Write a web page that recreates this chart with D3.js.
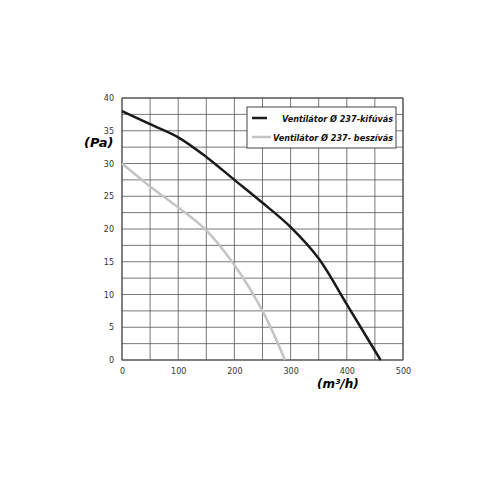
<!DOCTYPE html>
<html><head><meta charset="utf-8">
<script src="https://cdn.jsdelivr.net/npm/d3@7"></script>
<style>body{margin:0;background:#fff}text{font-family:"DejaVu Sans",sans-serif}</style>
</head><body><svg id="c" width="500" height="500"></svg>
<script>
const blowX = [0, 50, 100, 150, 200, 250, 300, 350, 400, 460];
const blowY = [38, 36, 34, 31, 27.5, 24, 20.3, 15.5, 8.5, 0];
const suckX = [0, 50, 100, 150, 200, 250, 290];
const suckY = [30, 26.5, 23.3, 19.8, 14.5, 7.5, 0];
const xTicks = [0, 100, 200, 300, 400, 500];
const yTicks = [0, 5, 10, 15, 20, 25, 30, 35, 40];
const names = ["Ventilátor Ø 237-kifúvás", "Ventilátor Ø 237- beszívás"];

const svg = d3.select("#c");
const x = d3.scaleLinear().domain([0, 500]).range([122, 403]);
const y = d3.scaleLinear().domain([0, 40]).range([360, 98]);

// grid
svg.append("g").selectAll("line").data(d3.range(0, 501, 50)).join("line")
  .attr("x1", d => x(d)).attr("x2", d => x(d)).attr("y1", y(0)).attr("y2", y(40))
  .attr("stroke", "#555").attr("stroke-width", 0.8);
svg.append("g").selectAll("line").data(d3.range(0, 40.1, 2.5)).join("line")
  .attr("x1", x(0)).attr("x2", x(500)).attr("y1", d => y(d)).attr("y2", d => y(d))
  .attr("stroke", "#555").attr("stroke-width", 0.8);
svg.append("rect").attr("x", x(0)).attr("y", y(40)).attr("width", x(500) - x(0)).attr("height", y(0) - y(40))
  .attr("fill", "none").attr("stroke", "#444").attr("stroke-width", 1);

const xa = svg.append("g").attr("transform", `translate(0,${y(0)})`)
  .call(d3.axisBottom(x).tickValues(xTicks).tickSize(0).tickPadding(8));
const ya = svg.append("g").attr("transform", `translate(${x(0)},0)`)
  .call(d3.axisLeft(y).tickValues(yTicks).tickSize(0).tickPadding(8));
[xa, ya].forEach(a => { a.select(".domain").remove(); a.selectAll("text").attr("font-size", 8).attr("fill", "#333").style("font-family", "DejaVu Sans"); });

const line = d3.line().x(d => x(d[0])).y(d => y(d[1])).curve(d3.curveCatmullRom);
svg.append("path").attr("d", line(d3.zip(suckX, suckY))).attr("fill", "none").attr("stroke", "#c4c4c4").attr("stroke-width", 2.5);
svg.append("path").attr("d", line(d3.zip(blowX, blowY))).attr("fill", "none").attr("stroke", "#1a1a1a").attr("stroke-width", 2.5);

// legend
svg.append("rect").attr("x", 247).attr("y", 107).attr("width", 149).attr("height", 41).attr("fill", "#fff").attr("stroke", "#444");
const cols = ["#1a1a1a", "#c4c4c4"];
names.forEach((n, i) => {
  const yy = 118 + i * 19;
  svg.append("line").attr("x1", 252).attr("x2", 267 + i * 4).attr("y1", yy).attr("y2", yy).attr("stroke", cols[i]).attr("stroke-width", 2.5);
  svg.append("text").attr("x", 393).attr("y", yy + 3.5).attr("text-anchor", "end").attr("font-size", 9)
    .attr("font-weight", "bold").attr("font-style", "italic").attr("fill", "#111")
    .style("font-family", "'DejaVu Sans Condensed', 'Liberation Sans Narrow', sans-serif").text(n);
});

svg.append("text").attr("x", 84).attr("y", 147).attr("font-size", 13).attr("font-weight", "bold").attr("font-style", "italic").text("(Pa)");
svg.append("text").attr("x", 317).attr("y", 388).attr("font-size", 12).attr("font-weight", "bold").attr("font-style", "italic").text("(m³/h)");
</script></body></html>
